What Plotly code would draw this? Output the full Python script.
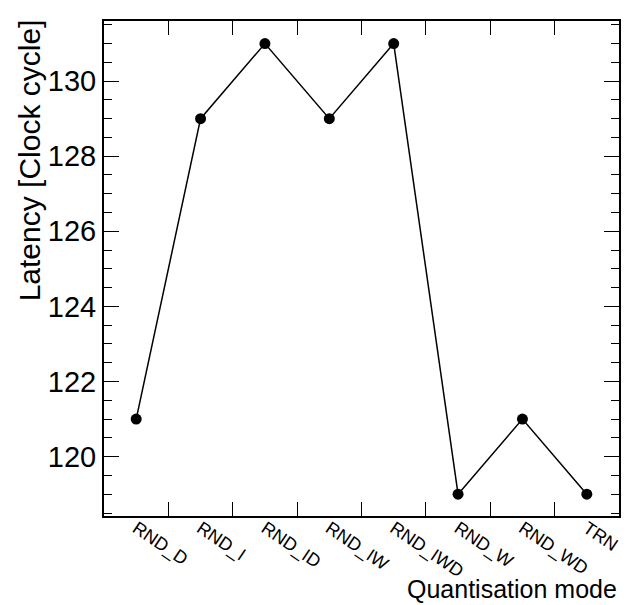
import plotly.graph_objects as go

modes = ["RND_D", "RND_I", "RND_ID", "RND_IW", "RND_IWD", "RND_W", "RND_WD", "TRN"]
latency = [121, 129, 131, 129, 131, 119, 121, 119]

x_title = "Quantisation mode"
y_title = "Latency [Clock cycle]"
y_ticks = [120, 122, 124, 126, 128, 130]

FONT = "Liberation Sans, Arial, Helvetica, sans-serif"

fig = go.Figure()
fig.add_trace(go.Scatter(
    x=modes, y=latency, mode="lines+markers",
    line=dict(color="black", width=1.5),
    marker=dict(color="black", size=11),
    showlegend=False,
))

fig.update_layout(
    width=635, height=605,
    margin=dict(l=104, r=16, t=21, b=89),
    paper_bgcolor="white", plot_bgcolor="white",
    font=dict(family=FONT, color="black"),
    xaxis=dict(
        type="category", range=[-0.5, 7.5],
        tickson="boundaries", ticks="inside", ticklen=14, tickwidth=1,
        tickcolor="black", tickangle=34, ticklabelstandoff=-7,
        tickfont=dict(size=18, family=FONT, color="black"),
        showline=True, linecolor="black", linewidth=2, mirror="ticks",
        showgrid=False, zeroline=False,
    ),
    yaxis=dict(
        range=[118.42, 131.6],
        tickvals=y_ticks, ticks="inside", ticklen=15, tickwidth=1,
        tickcolor="black",
        tickfont=dict(size=29, family=FONT, color="black"),
        minor=dict(dtick=0.5, ticks="inside", ticklen=8, tickcolor="black", showgrid=False),
        showline=True, linecolor="black", linewidth=2, mirror="ticks",
        showgrid=False, zeroline=False,
    ),
    annotations=[
        dict(text=y_title, textangle=-90, xref="paper", yref="paper",
             x=-0.145, y=1.008, xanchor="center", yanchor="top",
             showarrow=False, font=dict(size=30, family=FONT, color="black")),
        dict(text=x_title, xref="paper", yref="paper",
             x=1.0, y=-0.147, xanchor="right", yanchor="middle",
             showarrow=False, font=dict(size=25, family=FONT, color="black")),
    ],
)

fig.write_html("out.html", config={"displayModeBar": False},
               post_script="document.body.style.margin='0';")
